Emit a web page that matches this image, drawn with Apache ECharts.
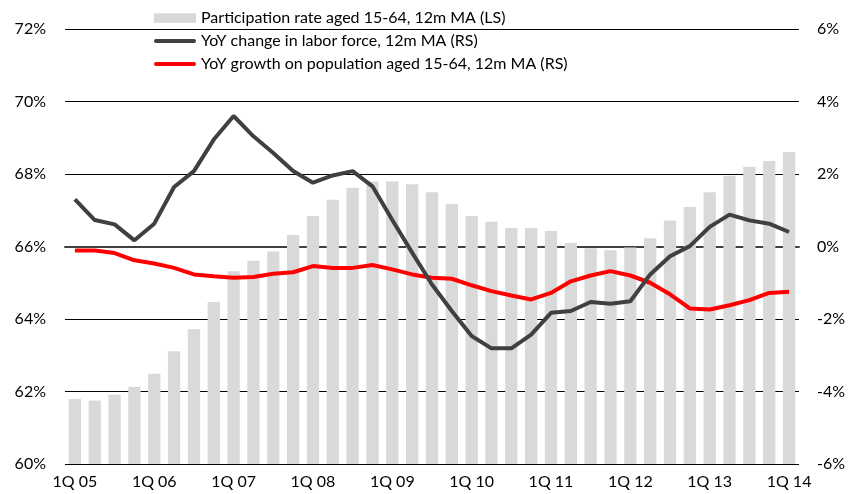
<!DOCTYPE html>
<html><head><meta charset="utf-8">
<script src="https://cdn.jsdelivr.net/npm/echarts@6/dist/echarts.min.js"></script>
<style>html,body{margin:0;padding:0;background:#fff}#c{width:848px;height:494px}</style>
</head><body><div id="c"></div>
<script>
const categories = [
 "1Q 05","2Q 05","3Q 05","4Q 05",
 "1Q 06","2Q 06","3Q 06","4Q 06",
 "1Q 07","2Q 07","3Q 07","4Q 07",
 "1Q 08","2Q 08","3Q 08","4Q 08",
 "1Q 09","2Q 09","3Q 09","4Q 09",
 "1Q 10","2Q 10","3Q 10","4Q 10",
 "1Q 11","2Q 11","3Q 11","4Q 11",
 "1Q 12","2Q 12","3Q 12","4Q 12",
 "1Q 13","2Q 13","3Q 13","4Q 13",
 "1Q 14"];
const participationRate = [61.79,61.75,61.91,62.13,62.49,63.11,63.72,64.47,65.32,65.61,65.86,66.32,
 66.84,67.29,67.62,67.79,67.79,67.72,67.50,67.17,66.84,66.68,66.51,66.51,66.43,66.10,65.95,65.90,
 65.97,66.23,66.72,67.09,67.50,67.95,68.20,68.36,68.61];
const laborForceChange = [1.30,0.73,0.61,0.17,0.63,1.64,2.08,2.95,3.60,3.04,2.58,2.08,1.76,1.96,2.08,1.66,
 0.73,-0.17,-1.05,-1.78,-2.47,-2.81,-2.81,-2.43,-1.83,-1.78,-1.53,-1.58,-1.51,-0.77,-0.27,0.01,
 0.54,0.88,0.72,0.63,0.40];
const populationGrowth = [-0.11,-0.11,-0.18,-0.38,-0.47,-0.59,-0.77,-0.82,-0.86,-0.84,-0.75,-0.71,-0.54,-0.59,-0.59,-0.51,
 -0.63,-0.77,-0.86,-0.89,-1.07,-1.23,-1.35,-1.46,-1.28,-0.96,-0.80,-0.68,-0.80,-1.00,-1.32,-1.71,
 -1.74,-1.62,-1.48,-1.28,-1.25];
const seriesNames = ["Participation rate aged 15-64, 12m MA (LS)","YoY change in labor force, 12m MA (RS)","YoY growth on population aged 15-64, 12m MA (RS)"];

const font = 'Lato, "Liberation Sans", sans-serif';
const lineIcon = 'path://M2,0H40A2,2,0,0,1,40,4H2A2,2,0,0,1,2,0Z';
const chart = echarts.init(document.getElementById('c'), null, {renderer:'canvas'});
chart.setOption({
  animation:false,
  backgroundColor:'#fff',
  textStyle:{fontFamily:font},
  grid:{left:65,right:49,top:29,bottom:30,containLabel:false},
  legend:{
    orient:'vertical', left:149, top:5, itemGap:7, itemWidth:42, itemHeight:12,
    textStyle:{fontFamily:font,fontSize:16,color:'#000'},
    data:[
      {name:seriesNames[0],icon:'path://M0,0H40V9H0Z',itemStyle:{color:'#d9d9d9'}},
      {name:seriesNames[1],icon:lineIcon,itemStyle:{color:'#404040'}},
      {name:seriesNames[2],icon:lineIcon,itemStyle:{color:'#ff0000'}}
    ]
  },
  xAxis:{type:'category',data:categories,
    axisLine:{lineStyle:{color:'#404040',width:2}},
    axisTick:{show:false},
    axisLabel:{interval:3,fontFamily:font,fontSize:16,color:'#000',margin:10},
    splitLine:{show:false}},
  yAxis:[
    {type:'value',min:60,max:72,interval:2,
     axisLine:{show:false},axisTick:{show:false},
     axisLabel:{formatter:'{value}%',fontFamily:font,fontSize:16,color:'#000',margin:19},
     splitLine:{show:true,lineStyle:{color:'#000',width:1}}},
    {type:'value',min:-6,max:6,interval:2,position:'right',
     axisLine:{show:false},axisTick:{show:false},
     axisLabel:{formatter:'{value}%',fontFamily:font,fontSize:16,color:'#000',margin:18},
     splitLine:{show:false}}
  ],
  series:[
    {name:seriesNames[0],type:'bar',data:participationRate,yAxisIndex:0,
     itemStyle:{color:'#d9d9d9'},barCategoryGap:'38%',z:2},
    {name:seriesNames[1],type:'line',data:laborForceChange,yAxisIndex:1,
     symbol:'none',lineStyle:{color:'#404040',width:4},itemStyle:{color:'#404040'},z:4},
    {name:seriesNames[2],type:'line',data:populationGrowth,yAxisIndex:1,
     symbol:'none',lineStyle:{color:'#ff0000',width:4},itemStyle:{color:'#ff0000'},z:3}
  ]
});
</script></body></html>
